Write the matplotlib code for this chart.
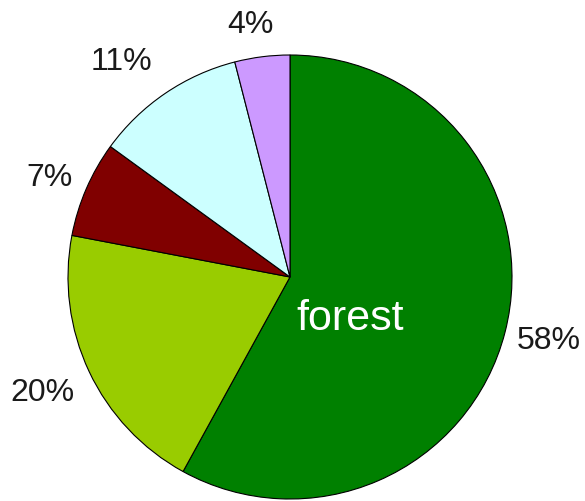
import numpy as np
from matplotlib import pyplot as plt

shares = [58, 20, 7, 11, 4]
labels = ['58%', '20%', '7%', '11%', '4%']
colors = ['#008000', '#99cc00', '#800000', '#ccffff', '#cc99ff']
# label placement: radius factor and angle nudge (deg) from slice middle
label_dist = [1.20, 1.23, 1.17, 1.23, 1.15]
label_nudge = [0.4, -0.1, 1.1, 3.9, 1.8]


def main():
    plt.rcParams['font.family'] = ['Liberation Sans', 'DejaVu Sans']
    fig = plt.figure(figsize=(5.85, 5.01), dpi=100)
    cx, cy, r = 290, 501 - 277, 222
    ax = fig.add_axes([(cx - r) / 585, (cy - r) / 501, 2 * r / 585, 2 * r / 501])
    wedges, _ = ax.pie(shares, colors=colors, startangle=90, counterclock=False,
                       wedgeprops=dict(edgecolor='black', linewidth=0.8))
    for w, lab, d, nd in zip(wedges, labels, label_dist, label_nudge):
        ang = np.deg2rad((w.theta1 + w.theta2) / 2 + nd)
        ax.text(d * np.cos(ang), d * np.sin(ang), lab, ha='center', va='center',
                fontsize=23, color='#1a1a1a')
    ax.text(0.27, -0.19, 'forest', ha='center', va='center', fontsize=31, color='white')
    ax.set_xlim(-1, 1)
    ax.set_ylim(-1, 1)
    ax.set_aspect('equal')
    ax.axis('off')
    fig.savefig('out.png', dpi=100)


if __name__ == '__main__':
    main()
